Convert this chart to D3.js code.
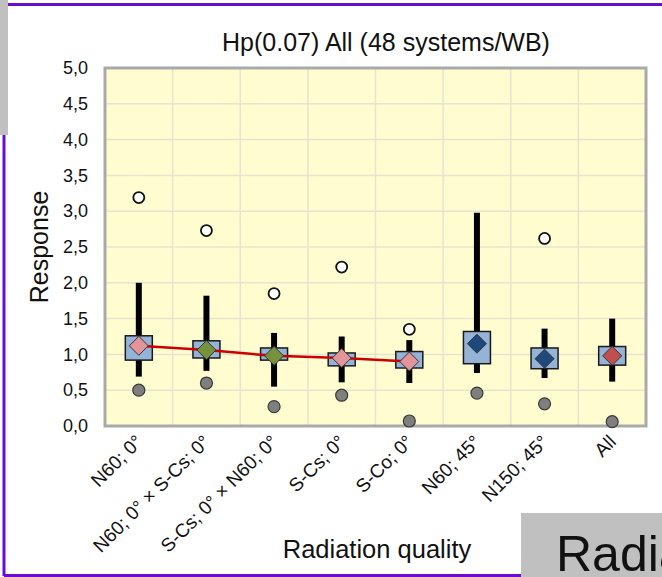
<!DOCTYPE html>
<html>
<head>
<meta charset="utf-8">
<title>Hp(0.07) All</title>
<script src="https://cdn.jsdelivr.net/npm/d3@7"></script>
<style>
  body { margin: 0; background: #fff; }
  svg text { font-family: "Liberation Sans", Arial, sans-serif; fill: #111; }
</style>
</head>
<body>
<div id="chart"></div>
<script>
// data
var categories = ["N60; 0°", "N60; 0° × S-Cs; 0°", "S-Cs; 0° × N60; 0°", "S-Cs; 0°",
                  "S-Co; 0°", "N60; 45°", "N150; 45°", "All"];
var maxVal   = [3.19, 2.73, 1.85, 2.22, 1.35, null, 2.62, null];
var whiskHi  = [2.00, 1.82, 1.30, 1.25, 1.20, 2.98, 1.36, 1.50];
var q3       = [1.26, 1.19, 1.09, 1.02, 1.04, 1.32, 1.09, 1.11];
var meanVal  = [1.12, 1.06, 0.98, 0.95, 0.90, 1.15, 0.94, 0.98];
var q1       = [0.92, 0.95, 0.92, 0.84, 0.81, 0.87, 0.80, 0.85];
var whiskLo  = [0.69, 0.77, 0.55, 0.61, 0.60, 0.74, 0.67, 0.62];
var minVal   = [0.50, 0.60, 0.27, 0.43, 0.07, 0.46, 0.31, 0.06];
var trendIdx = [0, 1, 2, 3, 4];   // categories joined by the red line
var yTicks   = [0, 0.5, 1, 1.5, 2, 2.5, 3, 3.5, 4, 4.5, 5];

var markerColors = ["#e29499", "#76923c", "#76923c", "#e29499", "#e29499", "#1f497d", "#1f497d", "#c0504d"];

var w = 662, h = 577;
var pLeft = 105, pRight = 646, pTop = 68, pBottom = 426;

var svg = d3.select("#chart").append("svg")
  .attr("width", w).attr("height", h);

// slide frame bits
svg.append("rect").attr("x", 0).attr("y", 0).attr("width", 8).attr("height", 135).attr("fill", "#c0c0c0");
svg.append("line").attr("x1", 8).attr("x2", w).attr("y1", 4.5).attr("y2", 4.5)
  .attr("stroke", "#6a0dcc").attr("stroke-width", 3);
svg.append("line").attr("x1", 4).attr("x2", 4).attr("y1", 135).attr("y2", 576)
  .attr("stroke", "#6a0dcc").attr("stroke-width", 3);
svg.append("line").attr("x1", 4).attr("x2", 521).attr("y1", 575.5).attr("y2", 575.5)
  .attr("stroke", "#6a0dcc").attr("stroke-width", 3);

var x = d3.scaleBand().domain(categories).range([pLeft, pRight]);
var y = d3.scaleLinear().domain([0, 5]).range([pBottom, pTop]);
var cx = function(i) { return x(categories[i]) + x.bandwidth() / 2; };

// plot background
svg.append("rect").attr("x", pLeft).attr("y", pTop)
  .attr("width", pRight - pLeft).attr("height", pBottom - pTop)
  .attr("fill", "#fffdd0");

// grid
svg.append("g").selectAll("line").data(yTicks.slice(1, -1)).enter().append("line")
  .attr("x1", pLeft).attr("x2", pRight)
  .attr("y1", function(d) { return y(d); }).attr("y2", function(d) { return y(d); })
  .attr("stroke", "#e6e4cf").attr("stroke-width", 1.5);
svg.append("g").selectAll("line").data(categories.slice(1)).enter().append("line")
  .attr("x1", function(d) { return x(d); }).attr("x2", function(d) { return x(d); })
  .attr("y1", pTop).attr("y2", pBottom)
  .attr("stroke", "#e6e4cf").attr("stroke-width", 1.5);

// plot border
svg.append("rect").attr("x", pLeft).attr("y", pTop)
  .attr("width", pRight - pLeft).attr("height", pBottom - pTop)
  .attr("fill", "none").attr("stroke", "#a9a9a9").attr("stroke-width", 3);

// y axis
var yAxis = svg.append("g").attr("transform", "translate(" + (pLeft - 17) + ",0)")
  .call(d3.axisLeft(y).tickValues(yTicks).tickSize(0).tickPadding(0)
    .tickFormat(function(d) { return d.toFixed(1).replace(".", ","); }));
yAxis.select(".domain").remove();
yAxis.selectAll("text").attr("font-size", 18).attr("fill", "#111")
  .style("font-family", "Liberation Sans, Arial, sans-serif");

// x axis labels, rotated
var xAxis = svg.append("g").attr("transform", "translate(0," + pBottom + ")")
  .call(d3.axisBottom(x).tickSize(0).tickPadding(0));
xAxis.select(".domain").remove();
xAxis.selectAll("text")
  .attr("font-size", 19).attr("fill", "#111")
  .style("font-family", "Liberation Sans, Arial, sans-serif")
  .attr("text-anchor", "end")
  .attr("dy", 0).attr("y", 0)
  .attr("transform", "translate(5,17) rotate(-45)");

// whiskers
svg.append("g").selectAll("line").data(categories).enter().append("line")
  .attr("x1", function(d, i) { return cx(i); }).attr("x2", function(d, i) { return cx(i); })
  .attr("y1", function(d, i) { return y(whiskHi[i]); })
  .attr("y2", function(d, i) { return y(whiskLo[i]); })
  .attr("stroke", "#000").attr("stroke-width", 6);

// boxes
var bw = 27;
svg.append("g").selectAll("rect").data(categories).enter().append("rect")
  .attr("x", function(d, i) { return cx(i) - bw / 2; })
  .attr("y", function(d, i) { return y(q3[i]); })
  .attr("width", bw)
  .attr("height", function(d, i) { return y(q1[i]) - y(q3[i]); })
  .attr("fill", "#95b3d7").attr("stroke", "#1a1a1a").attr("stroke-width", 1.5);

// red trend line through the means
svg.append("path")
  .datum(trendIdx)
  .attr("d", d3.line().x(function(i) { return cx(i); }).y(function(i) { return y(meanVal[i]); }))
  .attr("fill", "none").attr("stroke", "#cc0000").attr("stroke-width", 2.5);

// mean diamonds
var diamond = d3.symbol().type(d3.symbolDiamond2).size(230);
svg.append("g").selectAll("path").data(categories).enter().append("path")
  .attr("d", diamond)
  .attr("transform", function(d, i) { return "translate(" + cx(i) + "," + y(meanVal[i]) + ")"; })
  .attr("fill", function(d, i) { return markerColors[i]; })
  .attr("stroke", "#333").attr("stroke-width", 1);

// max points (white)
svg.append("g").selectAll("circle")
  .data(maxVal.map(function(v, i) { return {v: v, i: i}; }).filter(function(d) { return d.v !== null; }))
  .enter().append("circle")
  .attr("cx", function(d) { return cx(d.i); }).attr("cy", function(d) { return y(d.v); })
  .attr("r", 5.5).attr("fill", "#fff").attr("stroke", "#111").attr("stroke-width", 1.8);

// min points (grey)
svg.append("g").selectAll("circle").data(minVal).enter().append("circle")
  .attr("cx", function(d, i) { return cx(i); }).attr("cy", function(d) { return y(d); })
  .attr("r", 6).attr("fill", "#7f7f7f").attr("stroke", "#3a3a3a").attr("stroke-width", 1.2);

// titles
svg.append("text").attr("x", 386).attr("y", 51).attr("text-anchor", "middle")
  .attr("font-size", 25).text("Hp(0.07) All (48 systems/WB)");
svg.append("text").attr("transform", "translate(48,247) rotate(-90)").attr("text-anchor", "middle")
  .attr("font-size", 25).text("Response");
svg.append("text").attr("x", 377).attr("y", 558).attr("text-anchor", "middle")
  .attr("font-size", 25.5).text("Radiation quality");

// grey overlay box bottom right (text runs off the slide edge as in the source)
svg.append("rect").attr("x", 521).attr("y", 513).attr("width", 141).attr("height", 64).attr("fill", "#c0c0c0");
svg.append("text").attr("x", 556).attr("y", 571).attr("font-size", 50).text("Radiation quality");
</script>
</body>
</html>
